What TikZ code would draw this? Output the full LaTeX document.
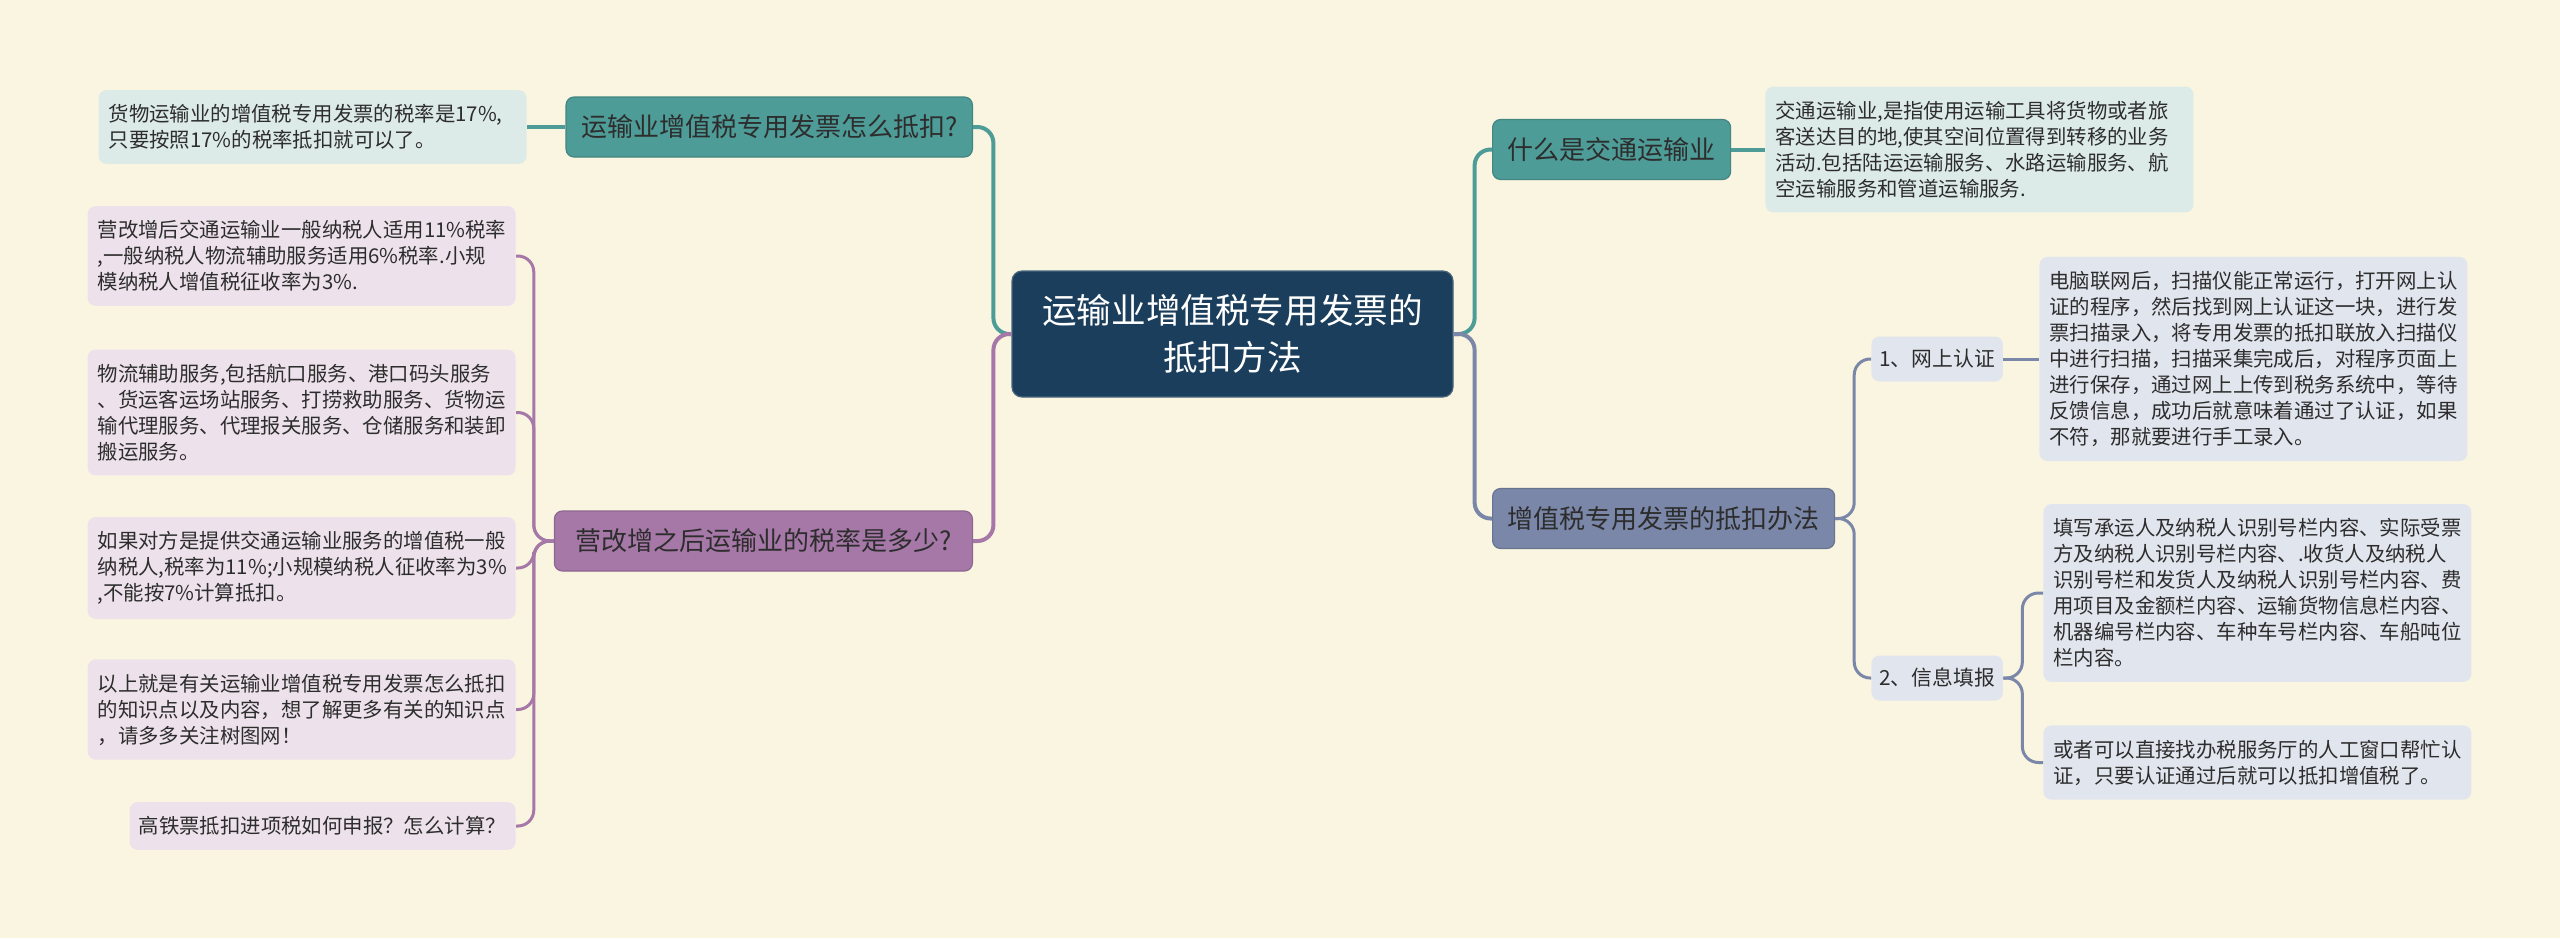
\documentclass[tikz,border=0pt]{standalone}
\usepackage{fontspec}
\newfontfamily\cjk{Noto Sans CJK SC}

\definecolor{bgcream}{RGB}{250,245,224}
\definecolor{mainblue}{RGB}{27,62,92}
\definecolor{mapteal}{RGB}{78,156,152}
\definecolor{mappurple}{RGB}{166,120,168}
\definecolor{mapslate}{RGB}{122,135,168}
\definecolor{tealleaf}{RGB}{221,235,232}
\definecolor{purpleleaf}{RGB}{237,226,236}
\definecolor{slateleaf}{RGB}{225,229,238}
\definecolor{inktext}{RGB}{45,45,45}

\tikzset{
  mainbox/.style={rounded corners=5pt, fill=mainblue, draw=mainblue!80!white, line width=0.6pt,
    text=white, align=center, minimum width=220.5pt, minimum height=63pt,
    font=\cjk\fontsize{17.3pt}{23.5pt}\selectfont},
  topicbox/.style={rounded corners=4pt, fill=#1, draw=#1!85!black, line width=0.6pt,
    text=inktext, inner xsep=7.5pt, minimum height=30pt,
    font=\cjk\fontsize{13pt}{16pt}\selectfont},
  subbox/.style={rounded corners=4pt, fill=slateleaf, text=inktext, inner xsep=4pt,
    minimum height=22.5pt, font=\cjk\fontsize{10.4pt}{13pt}\selectfont},
  leafbox/.style={rounded corners=4pt, fill=#1, text=inktext, align=left,
    text width=204pt, inner xsep=5pt, inner ysep=7.2pt,
    font=\cjk\fontsize{10.2pt}{13pt}\selectfont},
  linkline/.style={draw=#1, line width=2pt, rounded corners=8pt},
}

\begin{document}
\begin{tikzpicture}[x=0.5pt, y=-0.5pt]

  % Background
  \fill[bgcream] (0,0) rectangle (2560,938);

  % Central topic
  \node[mainbox] (main) at (1232.5,334) {运输业增值税专用发票的\\抵扣方法};

  % Left topics
  \node[topicbox=mapteal, anchor=east] (howto) at (973,127) {运输业增值税专用发票怎么抵扣?};
  \node[topicbox=mappurple, anchor=east, minimum width=209pt] (rate) at (973,541) {营改增之后运输业的税率是多少?};

  % Left leaves
  \node[leafbox=tealleaf, anchor=east] (howtoA) at (527,127)
    {货物运输业的增值税专用发票的税率是17\%,\\只要按照17\%的税率抵扣就可以了。};
  \node[leafbox=purpleleaf, anchor=east] (rateA) at (516,256)
    {营改增后交通运输业一般纳税人适用11\%税率\\,一般纳税人物流辅助服务适用6\%税率.小规\\模纳税人增值税征收率为3\%.};
  \node[leafbox=purpleleaf, anchor=east] (rateB) at (516,412.5)
    {物流辅助服务,包括航口服务、港口码头服务\\、货运客运场站服务、打捞救助服务、货物运\\输代理服务、代理报关服务、仓储服务和装卸\\搬运服务。};
  \node[leafbox=purpleleaf, anchor=east] (rateC) at (516,568)
    {如果对方是提供交通运输业服务的增值税一般\\纳税人,税率为11\%;小规模纳税人征收率为3\%\\,不能按7\%计算抵扣。};
  \node[leafbox=purpleleaf, anchor=east] (rateD) at (516,709.5)
    {以上就是有关运输业增值税专用发票怎么抵扣\\的知识点以及内容，想了解更多有关的知识点\\，请多多关注树图网！};
  \node[leafbox=purpleleaf, anchor=east, text width=184pt, inner xsep=4.5pt] (rateE) at (516,826)
    {高铁票抵扣进项税如何申报？怎么计算？};

  % Right topics
  \node[topicbox=mapteal, anchor=west] (what) at (1492,149.5) {什么是交通运输业};
  \node[topicbox=mapslate, anchor=west] (method) at (1492,518.5) {增值税专用发票的抵扣办法};

  % Right sub topics
  \node[subbox, anchor=west] (online) at (1871,359) {1、网上认证};
  \node[subbox, anchor=west] (entry) at (1871,678) {2、信息填报};

  % Right leaves
  \node[leafbox=tealleaf, anchor=west] (whatA) at (1765,149.5)
    {交通运输业,是指使用运输工具将货物或者旅\\客送达目的地,使其空间位置得到转移的业务\\活动.包括陆运运输服务、水路运输服务、航\\空运输服务和管道运输服务.};
  \node[leafbox=slateleaf, anchor=west] (onlineA) at (2039,359)
    {电脑联网后，扫描仪能正常运行，打开网上认\\证的程序，然后找到网上认证这一块，进行发\\票扫描录入，将专用发票的抵扣联放入扫描仪\\中进行扫描，扫描采集完成后，对程序页面上\\进行保存，通过网上上传到税务系统中，等待\\反馈信息，成功后就意味着通过了认证，如果\\不符，那就要进行手工录入。};
  \node[leafbox=slateleaf, anchor=west] (entryA) at (2043,593)
    {填写承运人及纳税人识别号栏内容、实际受票\\方及纳税人识别号栏内容、.收货人及纳税人\\识别号栏和发货人及纳税人识别号栏内容、费\\用项目及金额栏内容、运输货物信息栏内容、\\机器编号栏内容、车种车号栏内容、车船吨位\\栏内容。};
  \node[leafbox=slateleaf, anchor=west] (entryB) at (2043,762.5)
    {或者可以直接找办税服务厅的人工窗口帮忙认\\证，只要认证通过后就可以抵扣增值税了。};

  % Connectors, left side
  \draw[linkline=mapteal] (main.west) -- ++(-18,0) |- (howto.east);
  \draw[linkline=mappurple] (main.west) -- ++(-18,0) |- (rate.east);
  \draw[linkline=mapteal] (howto.west) -- (howtoA.east);
  \foreach \n in {rateA,rateB,rateC,rateD,rateE}
    \draw[linkline=mappurple, line width=1.5pt] (rate.west) -- ++(-20,0) |- (\n.east);

  % Connectors, right side
  \draw[linkline=mapteal] (main.east) -- ++(21,0) |- (what.west);
  \draw[linkline=mapslate] (main.east) -- ++(21,0) |- (method.west);
  \draw[linkline=mapteal] (what.east) -- (whatA.west);
  \foreach \n in {online,entry}
    \draw[linkline=mapslate, line width=1.5pt] (method.east) -- ++(19,0) |- (\n.west);
  \draw[linkline=mapslate, line width=1.5pt] (online.east) -- (onlineA.west);
  \foreach \n in {entryA,entryB}
    \draw[linkline=mapslate, line width=1.5pt] (entry.east) -- ++(19,0) |- (\n.west);

\end{tikzpicture}
\end{document}
